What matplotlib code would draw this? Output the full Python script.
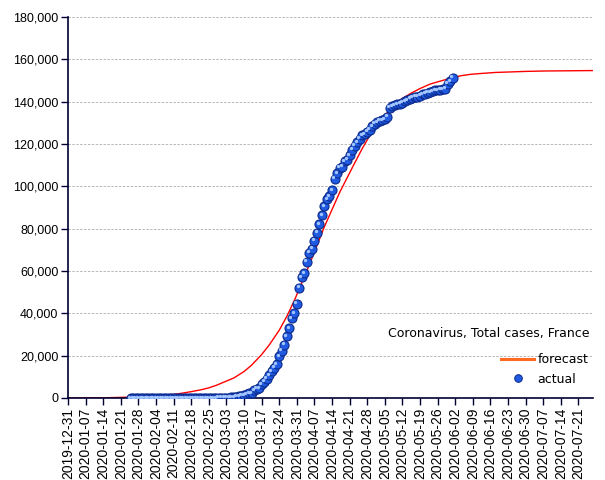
import numpy as np
import pandas as pd
import matplotlib
matplotlib.use("Agg")
import matplotlib.pyplot as plt
import matplotlib.dates as mdates
from matplotlib.lines import Line2D
from matplotlib.ticker import FuncFormatter
from matplotlib.transforms import ScaledTranslation

# actual cumulative cases, one value per day starting 2020-01-25
actual_start = "2020-01-25"
actual = [
    2, 3, 3, 3, 4, 5, 5, 5, 6, 6, 6, 6, 6, 6, 6, 11, 11, 11, 11, 11, 11, 11,
    12, 12, 12, 12, 12, 12, 12, 12, 12, 12, 14, 18, 38, 57, 100,
    130, 191, 204, 288, 380, 656, 957, 1134, 1217, 1792, 2289, 2289, 3672,
    4480, 4513, 6650, 7652, 9043, 10871, 12612, 14282, 16018, 19856, 22304,
    25233, 29155, 32964, 37575, 40174, 44550, 52128,
    56989, 59105, 64338, 68605, 70478, 74390, 78167, 82048, 86334, 90676,
    93790, 95403, 98076, 103573, 106206, 108847, 109252, 111821, 112606,
    114657, 117324, 119151, 120804, 122577, 124114, 124575, 125770, 126835,
    128339, 129581,
    130185, 130979, 131287, 131863, 132967, 137150, 137779, 138421, 138854,
    139063, 139519, 140227, 140734, 141356, 141919, 142291, 142411, 142903,
    143427, 143845, 144163, 144556, 144921, 145279, 145555, 145746, 145836,
    146122, 148524, 149668, 151325,
]

# forecast curve (days after 2019-12-31)
fc_day = [0, 14, 21, 28, 35, 42, 45, 49, 53, 56, 59, 63, 66, 70, 73, 77, 80,
          84, 87, 90, 93, 96, 99, 102, 105, 108, 111, 114, 117, 120, 123,
          126, 129, 132, 136, 140, 144, 148, 152, 156, 160, 164, 170, 175,
          182, 190, 200, 209]
fc_val = [0, 100, 300, 500, 900, 1700, 2200, 3000, 3900, 4800, 6000, 8000,
          9500, 12500, 15500, 20500, 25000, 32000, 38500, 46000, 54500, 63000,
          72000, 81000, 89000, 97000, 104000, 111000, 117800, 124000, 129500,
          133500, 137400, 140800, 143700, 146200, 148300, 149700, 151000,
          152200, 152900, 153300, 153800, 154000, 154300, 154500, 154600,
          154700]

title = "Coronavirus, Total cases, France"
x0 = pd.Timestamp("2019-12-31")
x_ticks = pd.date_range("2019-12-31", "2020-07-21", freq="7D")

act_dates = pd.date_range(actual_start, periods=len(actual), freq="D")
fc_dates = [x0 + pd.Timedelta(days=d) for d in fc_day]

navy = "#000033"
plt.rcParams["font.family"] = ["Liberation Sans", "DejaVu Sans"]

fig = plt.figure(figsize=(6.05, 4.8), dpi=100)
ax = fig.add_axes([68 / 605, 1 - 398 / 480, 525 / 605, 381 / 480])

for y in range(20000, 180001, 20000):
    ax.axhline(y, color="#b8b8b8", lw=0.7, ls=(0, (2.5, 1.5)), zorder=0)

ax.plot(fc_dates, fc_val, color="#ff0000", lw=1.0, zorder=2)

# sphere-like markers: dark rim, blue body, light highlight
ax.plot(act_dates, actual, ls="none", marker="o", ms=6.5,
        mfc="#1f5ae0", mec="#0c2a8c", mew=0.8, zorder=3)
hl = ax.transData + ScaledTranslation(-1.0 / 72, 1.0 / 72, fig.dpi_scale_trans)
ax.plot(act_dates, actual, ls="none", marker="o", ms=2.4,
        mfc="#a4c6ff", mec="none", zorder=4, transform=hl)

ax.set_xlim(x0, x0 + pd.Timedelta(days=208.8))
ax.set_ylim(0, 180000)
ax.set_xticks(x_ticks)
ax.xaxis.set_major_formatter(mdates.DateFormatter("%Y-%m-%d"))
ax.set_yticks(range(0, 180001, 20000))
ax.yaxis.set_major_formatter(FuncFormatter(lambda v, p: f"{int(v):,}"))
ax.tick_params(axis="x", rotation=90, labelsize=10, length=5, width=1,
               color=navy, pad=2)
ax.tick_params(axis="y", labelsize=9, length=5, width=1, color=navy, pad=2)

for s in ["top", "right"]:
    ax.spines[s].set_visible(False)
for s in ["left", "bottom"]:
    ax.spines[s].set_color(navy)
    ax.spines[s].set_linewidth(1.2)

ax.text(0.993, 0.168, title, transform=ax.transAxes, ha="right", va="center",
        fontsize=9, family="DejaVu Sans")

handles = [
    Line2D([], [], color="#ff6a20", lw=2.2),
    Line2D([], [], ls="none", marker="o", ms=5.5, mfc="#1f5ae0",
           mec="#0c2a8c", mew=0.7),
]
ax.legend(handles, ["forecast", "actual"], loc="lower right",
          bbox_to_anchor=(1.013, 0.003), frameon=False,
          prop={"family": "DejaVu Sans", "size": 9}, handlelength=2.6,
          handletextpad=0.3, labelspacing=0.5)

fig.savefig("out.png", dpi=100)
